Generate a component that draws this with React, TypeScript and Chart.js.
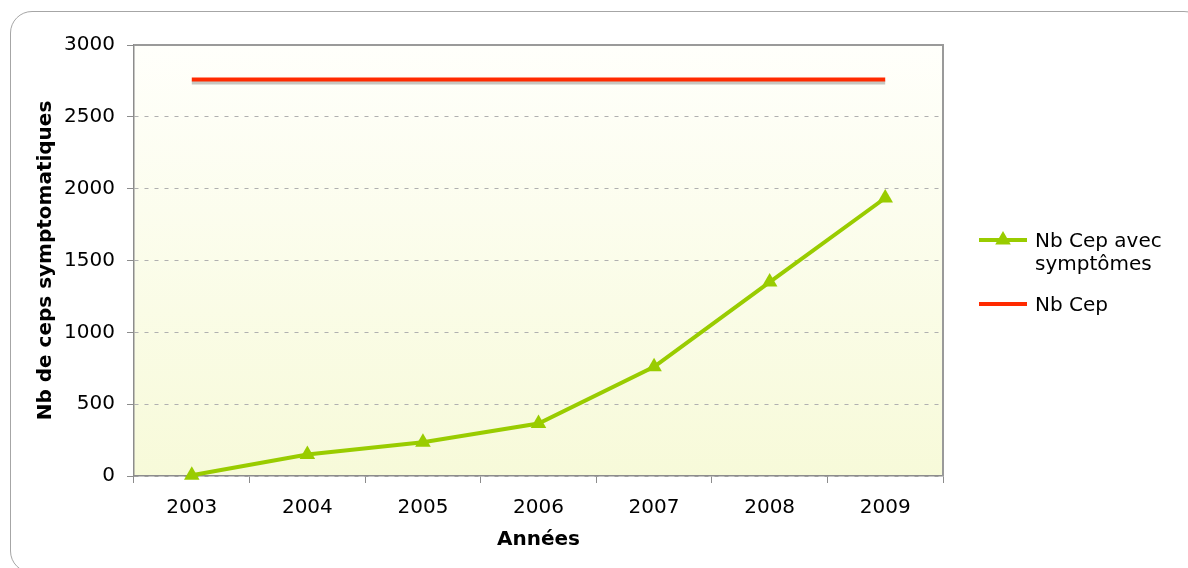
import React, { useEffect, useRef } from "react";
import { Chart, registerables } from "chart.js";

Chart.register(...registerables);

const years = ["2003", "2004", "2005", "2006", "2007", "2008", "2009"];
const cepsSymptomes = [5, 150, 235, 365, 760, 1350, 1935];
const nbCep = [2760, 2760, 2760, 2760, 2760, 2760, 2760];
const yTicks = [0, 500, 1000, 1500, 2000, 2500, 3000];
const seriesLabels = ["Nb Cep avec symptômes", "Nb Cep"];
const legendLines = [["Nb Cep avec", "symptômes"], ["Nb Cep"]];
const xTitle = "Années";
const yTitle = "Nb de ceps symptomatiques";

const FONT = "'DejaVu Sans', Verdana, sans-serif";
const GREEN = "#99cc00";
const RED = "#ff2a00";
const AXIS = "#8c8c8c";

const bgPlugin = {
  id: "plotBg",
  beforeDraw(chart: any) {
    const { ctx, chartArea: ca } = chart;
    const g = ctx.createLinearGradient(0, ca.top, 0, ca.bottom);
    g.addColorStop(0, "#fffffb");
    g.addColorStop(1, "#f7fad9");
    ctx.save();
    ctx.fillStyle = g;
    ctx.fillRect(ca.left, ca.top, ca.right - ca.left, ca.bottom - ca.top);
    ctx.restore();
  },
  beforeDatasetsDraw(chart: any) {
    const { ctx, chartArea: ca } = chart;
    ctx.save();
    ctx.strokeStyle = "#9a9a9a";
    ctx.lineWidth = 2;
    ctx.beginPath();
    ctx.moveTo(ca.left, ca.top);
    ctx.lineTo(ca.right, ca.top);
    ctx.lineTo(ca.right, ca.bottom);
    ctx.stroke();
    ctx.restore();
  },
  beforeDatasetDraw(chart: any, args: any) {
    if (args.index === 1) {
      const ctx = chart.ctx;
      ctx.save();
      ctx.shadowColor = "rgba(0,0,0,0.22)";
      ctx.shadowOffsetX = 0;
      ctx.shadowOffsetY = 3;
      ctx.shadowBlur = 0;
    }
  },
  afterDatasetDraw(chart: any, args: any) {
    if (args.index === 1) chart.ctx.restore();
  },
};

function drawTriangle(ctx: CanvasRenderingContext2D, x: number, y: number, r: number) {
  ctx.beginPath();
  for (let i = 0; i < 3; i++) {
    const a = (i * 2 * Math.PI) / 3;
    const px = x + Math.sin(a) * r;
    const py = y - Math.cos(a) * r;
    if (i === 0) ctx.moveTo(px, py);
    else ctx.lineTo(px, py);
  }
  ctx.closePath();
  ctx.fill();
}

const legendPlugin = {
  id: "sideLegend",
  afterDraw(chart: any) {
    const { ctx, chartArea: ca } = chart;
    const x0 = ca.right + 36;
    const x1 = ca.right + 84;
    const tx = ca.right + 92;
    const rows = [
      { y: ca.top + 195, color: GREEN, marker: true, lines: legendLines[0] },
      { y: ca.top + 259, color: RED, marker: false, lines: legendLines[1] },
    ];
    ctx.save();
    ctx.font = `20px ${FONT}`;
    ctx.textBaseline = "middle";
    ctx.textAlign = "left";
    rows.forEach((r) => {
      ctx.strokeStyle = r.color;
      ctx.lineWidth = 4;
      ctx.beginPath();
      ctx.moveTo(x0, r.y);
      ctx.lineTo(x1, r.y);
      ctx.stroke();
      if (r.marker) {
        ctx.fillStyle = r.color;
        drawTriangle(ctx, (x0 + x1) / 2, r.y, 9);
      }
      ctx.fillStyle = "#000";
      r.lines.forEach((t, i) => ctx.fillText(t, tx, r.y + 2 + i * 23));
    });
    ctx.restore();
  },
};

function ChartView() {
  const ref = useRef<HTMLCanvasElement | null>(null);
  useEffect(() => {
    if (!ref.current) return;
    const chart = new Chart(ref.current, {
      type: "line",
      data: {
        labels: years,
        datasets: [
          {
            label: seriesLabels[0],
            data: cepsSymptomes,
            borderColor: GREEN,
            backgroundColor: GREEN,
            borderWidth: 4,
            pointStyle: "triangle",
            pointRadius: 9,
            pointHoverRadius: 9,
            pointBackgroundColor: GREEN,
            pointBorderWidth: 0,
            tension: 0,
            clip: false,
          },
          {
            label: seriesLabels[1],
            data: nbCep,
            borderColor: RED,
            backgroundColor: RED,
            borderWidth: 4,
            pointRadius: 0,
            pointHoverRadius: 0,
            tension: 0,
          },
        ],
      },
      options: {
        animation: false,
        responsive: false,
        devicePixelRatio: 1,
        layout: { padding: { left: 0, top: 45, right: 245, bottom: 0 } },
        plugins: {
          legend: { display: false },
          tooltip: { enabled: false },
        },
        scales: {
          x: {
            offset: true,
            grid: {
              display: true,
              drawOnChartArea: false,
              offset: true,
              tickLength: 7,
              color: AXIS,
            },
            border: { display: true, color: AXIS, width: 1.5 },
            ticks: {
              color: "#000",
              font: { family: FONT, size: 20 },
              padding: 13,
              maxRotation: 0,
              autoSkip: false,
            },
            title: {
              display: true,
              text: xTitle,
              color: "#000",
              font: { family: FONT, size: 20, weight: "bold", lineHeight: 1.2 },
              padding: { top: 0, bottom: 16 },
            },
            afterFit: (s: any) => {
              s.height = 92;
            },
          },
          y: {
            min: 0,
            max: 3000,
            afterBuildTicks: (s: any) => {
              s.ticks = yTicks.map((v) => ({ value: v }));
            },
            grid: {
              color: "#b0b0b0",
              tickLength: 7,
              tickColor: AXIS,
              tickBorderDash: [],
            },
            border: { display: true, color: AXIS, width: 1.5, dash: [4, 6] },
            ticks: {
              color: "#000",
              font: { family: FONT, size: 20 },
              padding: 12,
              callback: (v: any) => String(v),
            },
            title: {
              display: true,
              text: yTitle,
              color: "#000",
              font: { family: FONT, size: 20, weight: "bold", lineHeight: 1.2 },
              padding: { top: 34, bottom: 0 },
            },
            afterFit: (s: any) => {
              s.width = 134;
            },
          },
        },
      },
      plugins: [bgPlugin, legendPlugin],
    } as any);
    return () => chart.destroy();
  }, []);
  return <canvas ref={ref} width={1188} height={568} style={{ position: "absolute", left: 0, top: 0 }} />;
}

export default function App() {
  return (
    <div
      style={{
        position: "fixed",
        left: 0,
        top: 0,
        width: 1188,
        height: 568,
        overflow: "hidden",
        background: "#fff",
      }}
    >
      <div
        style={{
          position: "absolute",
          left: 10,
          top: 11,
          width: 1196,
          height: 562,
          border: "1px solid #a6a6a6",
          borderRadius: 22,
          boxSizing: "border-box",
        }}
      />
      <ChartView />
    </div>
  );
}
